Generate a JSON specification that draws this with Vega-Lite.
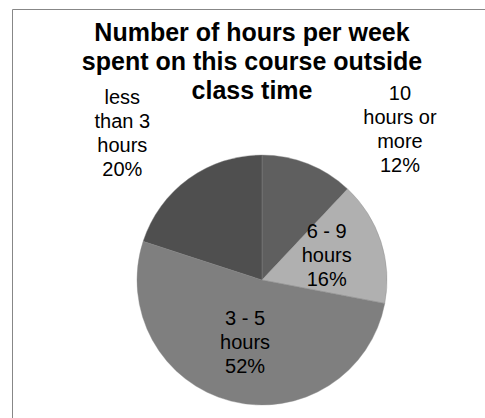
{
  "$schema": "https://vega.github.io/schema/vega-lite/v6.json",
  "autosize": "none",
  "padding": {"left": 12, "top": 9, "right": 0, "bottom": 0},
  "width": 500,
  "height": 542,
  "background": "white",
  "view": {"stroke": "#878787", "strokeWidth": 1, "fill": "white"},
  "config": {
    "view": {"stroke": "#878787", "strokeWidth": 1},
    "style": {"cell": {"stroke": "#878787", "strokeWidth": 1}},
    "font": "Liberation Sans"
  },
  "title": {
    "text": ["Number of hours per week", "spent on this course outside", "class time"],
    "font": "Liberation Sans",
    "fontSize": 25,
    "fontWeight": "bold",
    "color": "#000000",
    "lineHeight": 29,
    "anchor": "middle",
    "frame": "group",
    "baseline": "top",
    "dx": -10,
    "offset": -95
  },
  "data": {
    "values": [
      {"category": "10 hours or more", "percent": 12, "order": 1, "label": "10\nhours or\nmore\n12%"},
      {"category": "6 - 9 hours", "percent": 16, "order": 2, "label": "6 - 9\nhours\n16%"},
      {"category": "3 - 5 hours", "percent": 52, "order": 3, "label": "3 - 5\nhours\n52%"},
      {"category": "less than 3 hours", "percent": 20, "order": 4, "label": "less\nthan 3\nhours\n20%"}
    ]
  },
  "encoding": {
    "theta": {"field": "percent", "type": "quantitative", "stack": true},
    "order": {"field": "order", "type": "quantitative"}
  },
  "layer": [
    {
      "mark": {"type": "arc", "outerRadius": 125, "stroke": "#8c8c8c", "strokeWidth": 0.4},
      "encoding": {
        "color": {
          "field": "category",
          "type": "nominal",
          "scale": {
            "domain": ["10 hours or more", "6 - 9 hours", "3 - 5 hours", "less than 3 hours"],
            "range": ["#5f5f5f", "#b0b0b0", "#7f7f7f", "#4f4f4f"]
          },
          "legend": null
        }
      }
    },
    {
      "mark": {"type": "text", "radius": 68, "dy": -21, "fontSize": 20, "lineHeight": 24, "lineBreak": "\n", "align": "center", "baseline": "alphabetic", "color": "#000000"},
      "encoding": {"text": {"condition": {"test": "datum.order == 2 || datum.order == 3", "field": "label"}, "value": ""}}
    },
    {
      "mark": {"type": "text", "radius": 190, "dx": 68, "dy": -3, "fontSize": 20, "lineHeight": 24, "lineBreak": "\n", "align": "center", "baseline": "alphabetic", "color": "#000000"},
      "encoding": {"text": {"condition": {"test": "datum.order == 1", "field": "label"}, "value": ""}}
    },
    {
      "mark": {"type": "text", "radius": 190, "dx": -28, "dy": -22, "fontSize": 20, "lineHeight": 24, "lineBreak": "\n", "align": "center", "baseline": "alphabetic", "color": "#000000"},
      "encoding": {"text": {"condition": {"test": "datum.order == 4", "field": "label"}, "value": ""}}
    }
  ]
}
